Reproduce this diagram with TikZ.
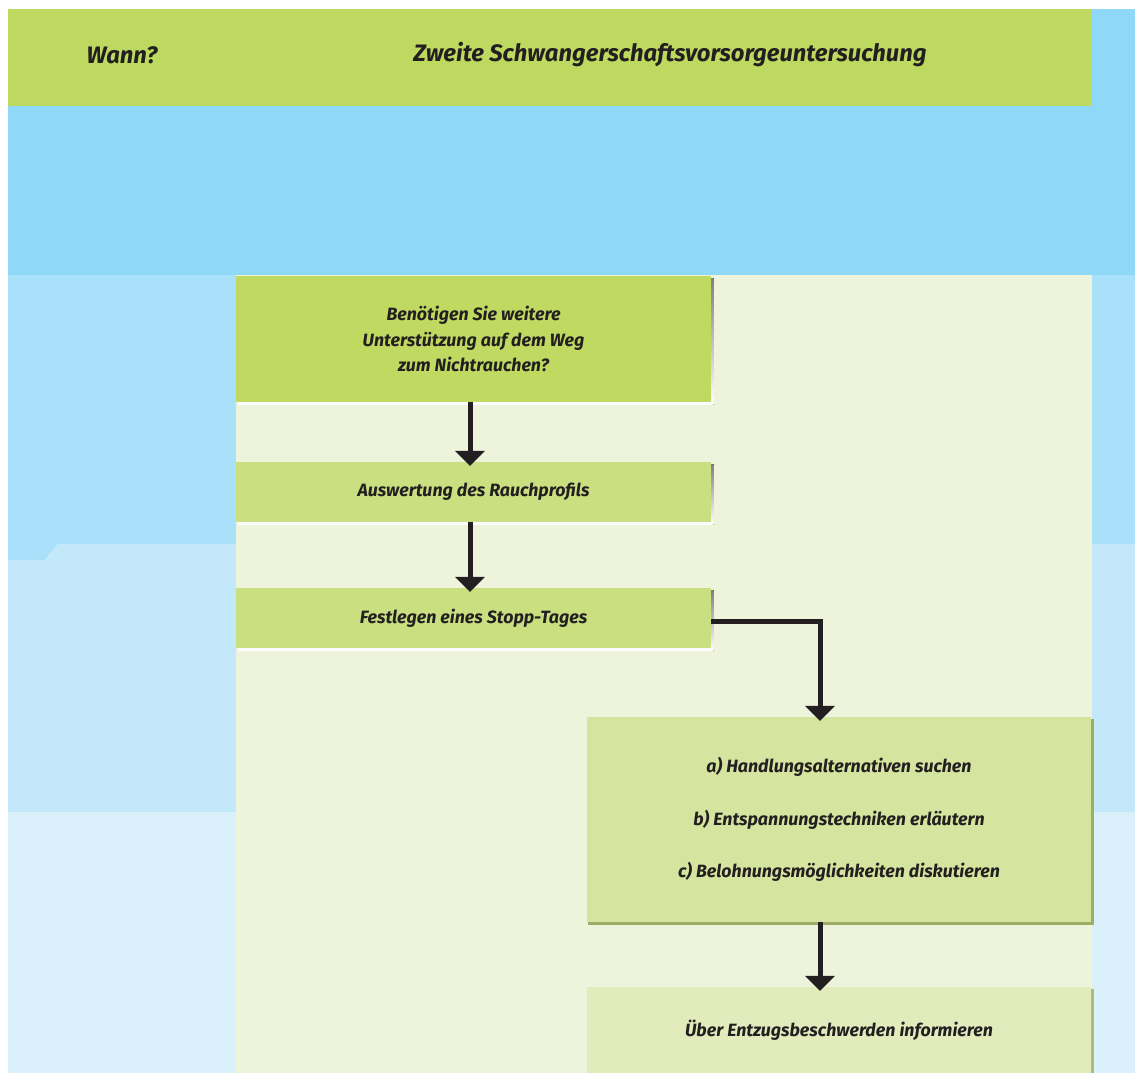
\documentclass[tikz,border=0pt]{standalone}
\usepackage{fontspec}
\setmainfont{Fira Sans}
\usetikzlibrary{arrows.meta}

\definecolor{headgreen}{HTML}{BED95F}
\definecolor{blueA}{HTML}{8FD8F7}
\definecolor{blueB}{HTML}{A9E0FA}
\definecolor{blueC}{HTML}{C3E8F9}
\definecolor{blueD}{HTML}{DAF1FC}
\definecolor{panel}{HTML}{EEF3DC}
\definecolor{boxA}{HTML}{BFD961}
\definecolor{boxB}{HTML}{C9DF80}
\definecolor{boxC}{HTML}{D5E49E}
\definecolor{boxD}{HTML}{E1EBBC}
\definecolor{ink}{HTML}{231F20}
\definecolor{shade}{HTML}{6F7F3A}

\tikzset{
  lbl/.style={font=\fontsize{17.8}{25.5}\selectfont\bfseries\itshape, text=ink, align=center, inner sep=0pt},
  flowbox/.style={draw=none, inner sep=0pt, lbl},
  leftbox/.style={flowbox, minimum width=475pt},
  rightbox/.style={flowbox, minimum width=504pt},
  flowarrow/.style={draw=ink, line width=5pt,
    -{Triangle[width=29pt, length=15pt]}, shorten >=-4pt},
  headtxt/.style={font=\fontsize{23.8}{28}\selectfont\bfseries\itshape, text=ink, inner sep=0pt}
}

\begin{document}
\begin{tikzpicture}[x=1pt, y=-1pt]
  \useasboundingbox (0,0) rectangle (1135,1073);
  \fill[white] (0,0) rectangle (1135,1073);

  % background bands
  \fill[blueA] (8,9) rectangle (1135,275);
  \fill[blueB] (8,275) -- (1135,275) -- (1135,544) -- (58,544) -- (45,560) -- (8,560) -- cycle;
  \fill[blueC] (8,560) -- (45,560) -- (58,544) -- (1135,544) -- (1135,812) -- (8,812) -- cycle;
  \fill[blueD] (8,812) rectangle (1135,1073);

  % header bar
  \fill[headgreen] (8,9) rectangle (1092,106);
  \node[headtxt] (wann) at (122,55) {Wann?};
  \node[headtxt] (title) at (670,55) {Zweite Schwangerschaftsvorsorgeuntersuchung};

  % central panel
  \fill[panel] (236,275) rectangle (1092,1073);

  % box shadows
  \fill[shade] (238,278) rectangle (713.5,404.5);
  \fill[shade] (238,464) rectangle (713.5,524.5);
  \fill[shade] (238,590) rectangle (713.5,650.5);
  \fill[shade!55!boxC] (588,719) rectangle (1093.5,924.5);
  \fill[shade!45!boxD] (588,989) rectangle (1093.5,1073);

  % flow boxes
  \node[leftbox, fill=boxA, minimum height=126pt] (q) at (473.5,339)
    {Benötigen Sie weitere\\Unterstützung auf dem Weg\\zum Nichtrauchen?};
  \node[leftbox, fill=boxB, minimum height=60pt] (eval) at (473.5,492)
    {Auswertung des Rauchprofils};
  \node[leftbox, fill=boxB, minimum height=60pt] (stop) at (473.5,618)
    {Festlegen eines Stopp-Tages};
  \node[rightbox, fill=boxC, minimum height=205pt, font=\fontsize{17.8}{52.5}\selectfont\bfseries\itshape] (alt) at (839,819.5)
    {a) Handlungsalternativen suchen\\b) Entspannungstechniken erläutern\\c) Belohnungsmöglichkeiten diskutieren};
  \node[rightbox, fill=boxD, minimum height=86pt] (info) at (839,1030)
    {Über Entzugsbeschwerden informieren};

  % connectors
  \draw[flowarrow] ([xshift=-3.5pt]q.south) -- ([xshift=-3.5pt]eval.north);
  \draw[flowarrow] ([xshift=-3.5pt]eval.south) -- ([xshift=-3.5pt]stop.north);
  \draw[flowarrow] ([yshift=-3pt]stop.east) -| ([xshift=-19pt]alt.north);
  \draw[flowarrow] ([xshift=-19pt]alt.south) -- ([xshift=-19pt]info.north);
\end{tikzpicture}
\end{document}
